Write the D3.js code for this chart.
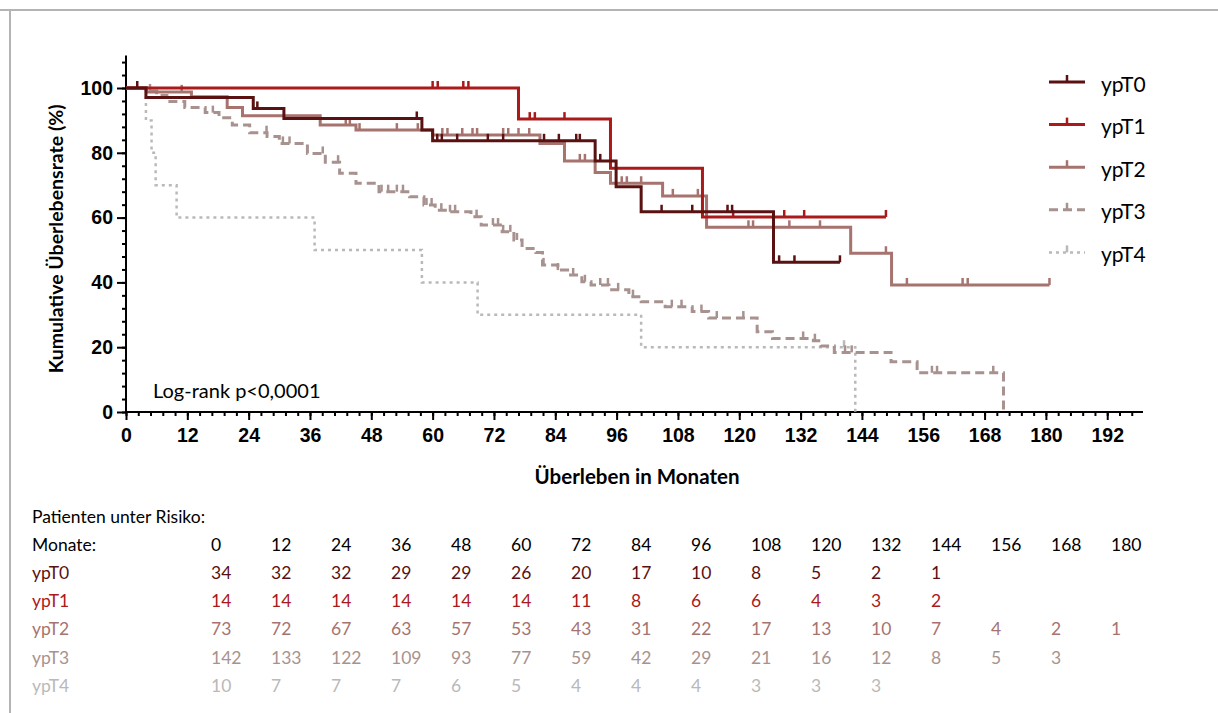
<!DOCTYPE html>
<html>
<head>
<meta charset="utf-8">
<script src="https://cdn.jsdelivr.net/npm/d3@7"></script>
<style>
  body { margin: 0; background: #fff; }
  svg { font-family: Lato, "Open Sans", sans-serif; }
</style>
</head>
<body>
<div id="chart"></div>
<script>
// group names
const groups = ["ypT0", "ypT1", "ypT2", "ypT3", "ypT4"];

// Kaplan-Meier steps: month where survival changes, survival (%) after it
const t0Times = [0, 3.9, 24.9, 30.9, 57.9, 60, 91.8, 95.9, 100.8, 126.7, 139.7];
const t0Surv  = [100, 97.1, 93.7, 90.6, 87.0, 83.7, 77.5, 69.5, 61.8, 46.2, 46.2];
const t0Cens  = [2.2, 25.7, 56.9, 60.9, 61.8, 64.8, 70.8, 73.8, 81.8, 84.7, 88.1, 88.8, 92.8,
                 104.8, 110.8, 117.7, 118.6, 127.8, 130.8, 139.7];

const t1Times = [0, 76.8, 94.8, 112.8, 148.7];
const t1Surv  = [100, 90.4, 75.2, 60.2, 60.2];
const t1Cens  = [60, 61, 66, 67, 79, 80, 85.8, 118.8, 128.8, 132.7, 148.7];

const t2Times = [0, 4, 12.8, 19.8, 22.8, 38, 45, 60, 81, 85.8, 91.8, 94.8, 105, 113.6, 141.8, 149.8, 180.7];
const t2Surv  = [100, 98.8, 97.3, 94.0, 91.4, 88.6, 87.0, 85.5, 82.9, 77.5, 73.9, 70.6, 66.7, 57.0, 49.0, 39.2, 39.2];
const t2Cens  = [10.9, 43, 43.8, 45.7, 53, 57.1, 61.9, 62.9, 65.8, 67.8, 68.7, 73.8, 74.8, 76.8, 78.9,
                 88.8, 89.8, 97, 98, 100.8, 107, 111.9, 121.8, 122.7, 129.8, 135.8, 148.7, 152.8,
                 163.7, 164.7, 180.7];

const t3Times = [0, 4, 6, 8, 11.5, 15.5, 18.2, 20.8, 24.2, 27.6, 30, 35.5, 39, 41.8, 45, 49.5, 55.5,
                 58.3, 60.5, 63.2, 67.5, 69.5, 73.6, 75.9, 77.5, 80.2, 81.5, 84.5, 86.4, 89.2, 91,
                 94.5, 98.4, 100.8, 105.5, 110.8, 114, 123.5, 126.5, 134.5, 136, 138.6, 149.7, 154.8, 171.7];
const t3Surv  = [100, 99.1, 97.7, 95.8, 94.0, 92.4, 90.8, 88.6, 86.2, 85.0, 82.9, 79.8, 77.1, 73.7, 70.6,
                 68.0, 66.4, 63.9, 62.3, 61.8, 60.3, 57.7, 55.6, 53.1, 50.5, 49.2, 45.4, 43.8, 42.3,
                 40.2, 39.2, 37.7, 35.6, 34.0, 32.5, 31.0, 29.0, 24.8, 22.7, 22.0, 20.4, 18.4, 15.5, 12.1, 0];
const t3Cens  = [4.7, 17, 27.5, 30.7, 32, 38.5, 41.5, 50, 51.3, 53, 54.2, 58.8, 59.8, 61.7, 63.4, 64.4,
                 68.6, 71.8, 72.8, 73.8, 75.2, 76.5, 81.7, 84.5, 87.5, 89.8, 92.8, 94.3, 96.3, 99.2,
                 106.8, 108.7, 112.6, 115.6, 120.8, 132.5, 134.8, 140.7, 142, 157.7, 158.7, 169.7];

const t4Times = [0, 3.9, 5, 5.8, 9.9, 36.9, 57.9, 68.8, 100.8, 142.7];
const t4Surv  = [100, 90, 80, 70, 60, 50, 40, 30, 20, 0];
const t4Cens  = [140.5];

// numbers at risk table
const riskMonths = [0, 12, 24, 36, 48, 60, 72, 84, 96, 108, 120, 132, 144, 156, 168, 180];
const risk0 = [34, 32, 32, 29, 29, 26, 20, 17, 10, 8, 5, 2, 1];
const risk1 = [14, 14, 14, 14, 14, 14, 11, 8, 6, 6, 4, 3, 2];
const risk2 = [73, 72, 67, 63, 57, 53, 43, 31, 22, 17, 13, 10, 7, 4, 2, 1];
const risk3 = [142, 133, 122, 109, 93, 77, 59, 42, 29, 21, 16, 12, 8, 5, 3];
const risk4 = [10, 7, 7, 7, 6, 5, 4, 4, 4, 3, 3, 3];

const xMajor = d3.range(0, 193, 12);
const yMajor = [0, 20, 40, 60, 80, 100];

const colors = {
    "ypT0": "#5a1111",
    "ypT1": "#aa1a1a",
    "ypT2": "#a6736f",
    "ypT3": "#a8928f",
    "ypT4": "#b9b9b9"
};
const dashes = { "ypT0": null, "ypT1": null, "ypT2": null, "ypT3": "9,5", "ypT4": "3,4" };

const series = [
    { name: "ypT0", times: t0Times, surv: t0Surv, cens: t0Cens, risk: risk0 },
    { name: "ypT1", times: t1Times, surv: t1Surv, cens: t1Cens, risk: risk1 },
    { name: "ypT2", times: t2Times, surv: t2Surv, cens: t2Cens, risk: risk2 },
    { name: "ypT3", times: t3Times, surv: t3Surv, cens: t3Cens, risk: risk3 },
    { name: "ypT4", times: t4Times, surv: t4Surv, cens: t4Cens, risk: risk4 }
];

const W = 1218, H = 713;
const svg = d3.select("#chart").append("svg")
              .attr("width", W)
              .attr("height", H);

// light frame at top and left
svg.append("line").attr("x1", 0).attr("x2", W).attr("y1", 10).attr("y2", 10)
   .attr("stroke", "#b4b4b4").attr("stroke-width", 2);
svg.append("line").attr("x1", 10).attr("x2", 10).attr("y1", 10).attr("y2", H)
   .attr("stroke", "#b4b4b4").attr("stroke-width", 2);

const x = d3.scaleLinear().domain([0, 199]).range([126, 1143]),
      y = d3.scaleLinear().domain([0, 110]).range([412, 55.6]);

// axes
const xAxisG = svg.append("g").attr("transform", `translate(0,${y(0)})`);
xAxisG.call(d3.axisBottom(x).tickValues(d3.range(0, 197, 2.4)).tickSize(4).tickFormat(""));
xAxisG.append("g").call(d3.axisBottom(x).tickValues(xMajor).tickSize(8).tickFormat(d3.format("d")));
xAxisG.selectAll(".domain").remove();
xAxisG.append("line").attr("x1", x(0) - 1).attr("x2", x(199)).attr("stroke", "#000").attr("stroke-width", 2);

const yAxisG = svg.append("g").attr("transform", `translate(${x(0)},0)`);
yAxisG.call(d3.axisLeft(y).tickValues(d3.range(0, 109, 4)).tickSize(4).tickFormat(""));
yAxisG.append("g").call(d3.axisLeft(y).tickValues(yMajor).tickSize(9).tickFormat(d3.format("d")));
yAxisG.selectAll(".domain").remove();
yAxisG.append("line").attr("y1", y(0) + 1).attr("y2", y(110)).attr("stroke", "#000").attr("stroke-width", 2);

svg.selectAll(".tick line").attr("stroke", "#000").attr("stroke-width", 2);
svg.selectAll(".tick text")
   .attr("fill", "#000")
   .style("font-size", "19.5px")
   .style("font-weight", "bold");
xAxisG.selectAll(".tick text").attr("dy", "0.95em");
yAxisG.selectAll(".tick text").attr("dx", "-0.05em");

svg.append("text")
   .attr("transform", `translate(55,${(y(0) + y(110)) / 2 + 5}) rotate(-90)`)
   .attr("text-anchor", "middle")
   .attr("dominant-baseline", "central")
   .style("font-size", "19.5px").style("font-weight", "bold")
   .text("Kumulative Überlebensrate (%)");

svg.append("text")
   .attr("x", 637).attr("y", 476)
   .attr("text-anchor", "middle")
   .attr("dominant-baseline", "central")
   .style("font-size", "20.5px").style("font-weight", "bold")
   .text("Überleben in Monaten");

svg.append("text")
   .attr("x", 153).attr("y", 390)
   .attr("dominant-baseline", "central")
   .style("font-size", "20px")
   .text("Log-rank p<0,0001");

// curves
const stepLine = d3.line()
    .x(d => x(d[0]))
    .y(d => y(d[1]))
    .curve(d3.curveStepAfter);

function survAt(s, t) {
    let v = s.surv[0];
    s.times.forEach((tt, i) => { if (tt <= t) v = s.surv[i]; });
    return v;
}

const plot = svg.append("g");
series.slice().reverse().forEach(s => {
    const pts = s.times.map((t, i) => [t, s.surv[i]]);
    const g = plot.append("g");
    g.append("path")
     .attr("d", stepLine(pts))
     .attr("fill", "none")
     .attr("stroke", colors[s.name])
     .attr("stroke-width", s.name === "ypT4" ? 2.5 : 3)
     .attr("stroke-dasharray", dashes[s.name]);
    g.selectAll("line.cens").data(s.cens).enter().append("line")
     .attr("class", "cens")
     .attr("x1", d => x(d)).attr("x2", d => x(d))
     .attr("y1", d => y(survAt(s, d)))
     .attr("y2", d => y(survAt(s, d)) - 7)
     .attr("stroke", colors[s.name])
     .attr("stroke-width", 2.5);
});

// legend
const legend = svg.append("g");
series.forEach((s, i) => {
    const ly = 82 + i * 42.6;
    legend.append("line")
          .attr("x1", 1049).attr("x2", 1085).attr("y1", ly).attr("y2", ly)
          .attr("stroke", colors[s.name])
          .attr("stroke-width", s.name === "ypT4" ? 2.5 : 3)
          .attr("stroke-dasharray", dashes[s.name]);
    legend.append("line")
          .attr("x1", 1067).attr("x2", 1067).attr("y1", ly).attr("y2", ly - 7)
          .attr("stroke", colors[s.name]).attr("stroke-width", 2.5);
    legend.append("text")
          .attr("x", 1101).attr("y", ly + 1)
          .attr("dominant-baseline", "central")
          .style("font-size", "21px")
          .text(s.name);
});

// patients at risk
const table = svg.append("g").style("font-size", "17.5px");
const colX = i => 211 + i * 60;
const rowY = i => 516 + i * 28.2;

table.append("text").attr("x", 32).attr("y", rowY(0)).attr("dominant-baseline", "central")
     .text("Patienten unter Risiko:");
table.append("text").attr("x", 32).attr("y", rowY(1)).attr("dominant-baseline", "central")
     .text("Monate:");
table.selectAll("text.month").data(riskMonths).enter().append("text")
     .attr("class", "month")
     .attr("x", (d, i) => colX(i)).attr("y", rowY(1))
     .attr("dominant-baseline", "central")
     .text(d => d);

series.forEach((s, r) => {
    table.append("text").attr("x", 32).attr("y", rowY(r + 2))
         .attr("dominant-baseline", "central")
         .attr("fill", colors[s.name])
         .text(s.name);
    table.selectAll("text.n" + r).data(s.risk).enter().append("text")
         .attr("class", "n" + r)
         .attr("x", (d, i) => colX(i)).attr("y", rowY(r + 2))
         .attr("dominant-baseline", "central")
         .attr("fill", colors[s.name])
         .text(d => d);
});
</script>
</body>
</html>
